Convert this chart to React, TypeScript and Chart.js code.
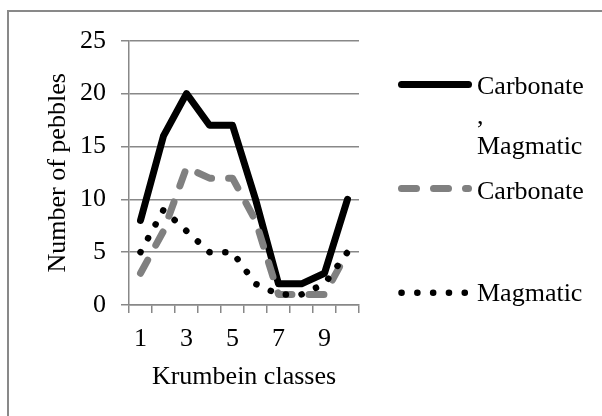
import React, { useEffect, useRef } from 'react';
import { Chart, registerables } from 'chart.js';

Chart.register(...registerables);

// ---- data ----
const categories = ['1', '2', '3', '4', '5', '6', '7', '8', '9', '10'];
const carbonateMagmatic = [8, 16, 20, 17, 17, 10, 2, 2, 3, 10];
const carbonate = [3, 7, 13, 12, 12, 8, 1, 1, 1, 5];
const magmatic = [5, 9, 7, 5, 5, 2, 1, 1, 2, 5];
const yTicks = [0, 5, 10, 15, 20, 25];
const seriesNames = ['Carbonate, Magmatic', 'Carbonate', 'Magmatic'];
const legendLines = [['Carbonate', ',', 'Magmatic'], ['Carbonate'], ['Magmatic']];
const xTitle = 'Krumbein classes';
const yTitle = 'Number of pebbles';

const FONT = '"Liberation Serif", "Times New Roman", serif';
const FONT_SIZE = 26;
const GRID = '#888888';

const legendLayout = [
  { lineY: 84.5, baselines: [94.3, 124.3, 154.3] },
  { lineY: 188.5, baselines: [199] },
  { lineY: 292.7, baselines: [300.7] },
];

const excelLegend = {
  id: 'excelLegend',
  afterDraw(chart: any) {
    const ctx = chart.ctx as CanvasRenderingContext2D;
    chart.data.datasets.forEach((ds: any, i: number) => {
      const e = legendLayout[i];
      ctx.save();
      ctx.strokeStyle = ds.borderColor;
      ctx.lineWidth = ds.borderWidth;
      ctx.lineCap = ds.borderCapStyle || 'butt';
      ctx.lineJoin = 'round';
      ctx.setLineDash(ds.borderDash || []);
      ctx.beginPath();
      ctx.moveTo(401.5, e.lineY);
      ctx.lineTo(468.5, e.lineY);
      ctx.stroke();
      ctx.setLineDash([]);
      ctx.fillStyle = '#000';
      ctx.font = `${FONT_SIZE}px ${FONT}`;
      ctx.textAlign = 'left';
      ctx.textBaseline = 'alphabetic';
      legendLines[i].forEach((t, j) => ctx.fillText(t, 477, e.baselines[j]));
      ctx.restore();
    });
  },
};

export default function App() {
  const ref = useRef<HTMLCanvasElement>(null);

  useEffect(() => {
    const font = { family: FONT, size: FONT_SIZE };
    const chart = new Chart(ref.current!, {
      type: 'line',
      data: {
        labels: categories,
        datasets: [
          {
            label: seriesNames[0],
            data: carbonateMagmatic,
            borderColor: '#000000',
            borderWidth: 7,
            borderDash: [],
            borderCapStyle: 'round',
            borderJoinStyle: 'round',
            pointRadius: 0,
            tension: 0,
            fill: false,
            order: 3,
          },
          {
            label: seriesNames[1],
            data: carbonate,
            borderColor: '#808080',
            borderWidth: 7,
            borderDash: [15, 17],
            borderCapStyle: 'round',
            borderJoinStyle: 'round',
            pointRadius: 0,
            tension: 0,
            fill: false,
            order: 2,
          },
          {
            label: seriesNames[2],
            data: magmatic,
            borderColor: '#000000',
            borderWidth: 6.5,
            borderDash: [0.1, 15.7],
            borderCapStyle: 'round',
            borderJoinStyle: 'round',
            pointRadius: 0,
            tension: 0,
            fill: false,
            order: 1,
          },
        ],
      } as any,
      options: {
        animation: false,
        responsive: false,
        devicePixelRatio: 1,
        layout: { padding: { left: 0, top: 40.7, right: 243, bottom: 23.4 } },
        plugins: {
          legend: { display: false },
          tooltip: { enabled: false },
        },
        scales: {
          x: {
            type: 'category',
            offset: true,
            grid: {
              display: true,
              drawOnChartArea: false,
              drawTicks: true,
              tickLength: 8,
              offset: true,
              color: GRID,
              lineWidth: 1.5,
            },
            border: { display: true, color: GRID, width: 1.5 },
            ticks: {
              autoSkip: false,
              maxRotation: 0,
              minRotation: 0,
              padding: 10.4,
              color: '#000',
              font,
              callback: (_v: any, i: number) => (i % 2 === 0 ? categories[i] : ''),
            },
            title: {
              display: true,
              text: xTitle,
              color: '#000',
              font,
              padding: { top: 0, bottom: 0 },
            },
            afterFit: (s: any) => {
              s.height = 87.6;
            },
          },
          y: {
            min: 0,
            max: 25,
            afterBuildTicks: (s: any) => {
              s.ticks = yTicks.map((v) => ({ value: v }));
            },
            ticks: { padding: 15, color: '#000', font },
            grid: { color: GRID, lineWidth: 1.5, tickLength: 8, drawTicks: true },
            border: { display: true, color: GRID, width: 1.5 },
            title: {
              display: true,
              text: yTitle,
              color: '#000',
              font,
              padding: { top: 42.7, bottom: 0 },
            },
            afterFit: (s: any) => {
              s.width = 129;
            },
          },
        },
      } as any,
      plugins: [excelLegend],
    });
    return () => chart.destroy();
  }, []);

  return (
    <div
      style={{
        position: 'fixed',
        left: 0,
        top: 0,
        width: 602,
        height: 416,
        overflow: 'hidden',
        background: '#ffffff',
      }}
    >
      <div
        style={{
          position: 'absolute',
          left: 7,
          top: 10,
          width: 700,
          height: 500,
          border: '2px solid #898989',
          boxSizing: 'border-box',
        }}
      />
      <canvas
        ref={ref}
        width={602}
        height={416}
        style={{ position: 'absolute', left: 0, top: 0, width: 602, height: 416 }}
      />
    </div>
  );
}
